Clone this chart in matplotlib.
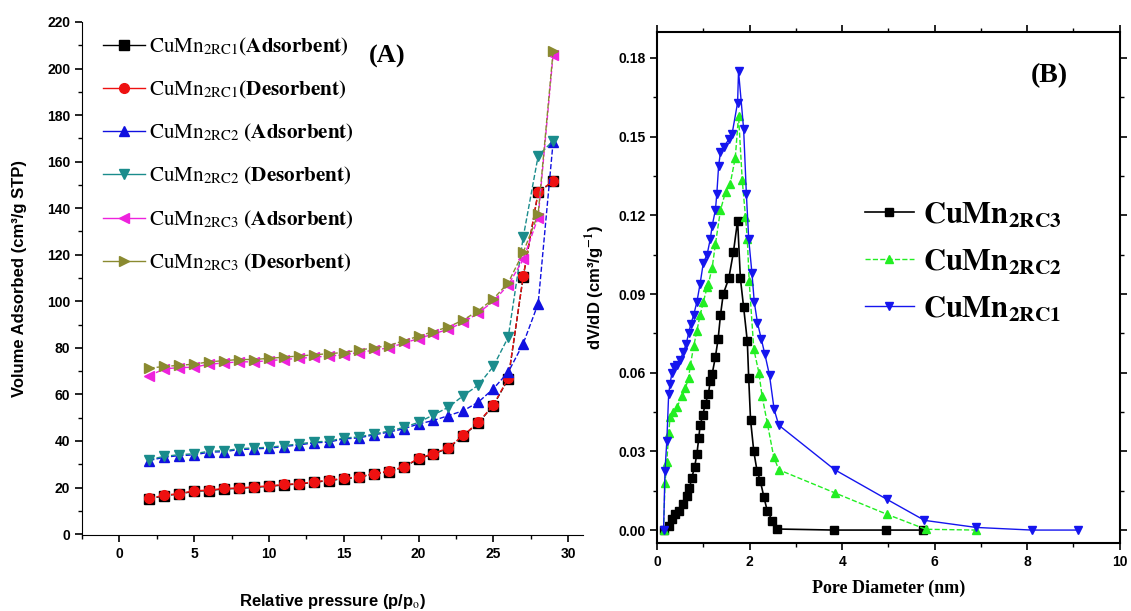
import matplotlib
matplotlib.use("Agg")
import matplotlib.pyplot as plt
from matplotlib.ticker import MultipleLocator, FormatStrFormatter

plt.rcParams['mathtext.fontset'] = 'stix'
plt.rcParams['font.family'] = ['Liberation Sans', 'DejaVu Sans']

# ---------------- Panel A data ----------------
pressure = list(range(2, 30))
rc1_ads = [15.1, 16.5, 17.2, 18.4, 18.7, 19.4, 19.6, 20.1, 20.5, 21.1, 21.5, 22.2, 23.0, 23.7,
           24.4, 25.8, 26.8, 28.7, 32.3, 34.4, 36.9, 42.3, 47.8, 55.2, 66.7, 110.5, 146.8, 151.5]
rc1_des = [15.3, 16.7, 17.4, 18.6, 18.9, 19.6, 19.8, 20.3, 20.7, 21.3, 21.7, 22.4, 23.2, 23.9,
           24.6, 26.0, 27.0, 28.9, 32.5, 34.6, 37.1, 42.5, 48.0, 55.4, 67.0, 110.7, 147.0, 151.7]
rc2_ads = [31.6, 33.0, 33.7, 34.0, 35.2, 35.4, 36.3, 36.6, 36.9, 37.6, 38.3, 39.2, 39.5, 40.9,
           41.3, 42.6, 43.8, 45.2, 47.3, 48.8, 50.9, 53.0, 56.7, 62.4, 69.6, 81.8, 99.0, 168.5]
rc2_des = [32.0, 33.4, 34.1, 34.5, 35.6, 35.8, 36.7, 37.0, 37.3, 38.0, 38.7, 39.6, 39.9, 41.3,
           41.7, 43.0, 44.2, 45.8, 48.0, 51.2, 54.5, 59.5, 64.0, 72.0, 84.6, 127.5, 162.5, 169.0]
rc3_ads = [68.0, 71.0, 71.5, 71.7, 73.0, 73.5, 74.0, 74.0, 74.5, 75.0, 75.5, 76.0, 76.5, 77.0,
           78.0, 79.0, 80.0, 82.0, 84.0, 86.0, 88.0, 91.0, 95.0, 100.0, 107.0, 118.0, 136.0, 206.0]
rc3_des = [71.3, 72.0, 72.5, 73.0, 74.0, 74.5, 75.0, 75.0, 75.5, 76.0, 76.5, 77.0, 77.5, 78.0,
           79.0, 80.0, 81.0, 83.0, 85.0, 87.0, 89.0, 92.0, 96.0, 101.0, 108.0, 121.0, 137.5, 207.5]

# ---------------- Panel B data ----------------
d_rc3 = [0.14, 0.25, 0.32, 0.39, 0.48, 0.57, 0.64, 0.70, 0.75, 0.81, 0.86, 0.90, 0.93, 0.99,
         1.04, 1.11, 1.15, 1.19, 1.26, 1.32, 1.37, 1.43, 1.55, 1.65, 1.74, 1.80, 1.87, 1.95,
         1.98, 2.02, 2.09, 2.16, 2.23, 2.31, 2.38, 2.49, 2.60, 3.83, 4.95, 5.75]
v_rc3 = [0.0, 0.0017, 0.0042, 0.0061, 0.0074, 0.0099, 0.013, 0.016, 0.020, 0.024, 0.029, 0.035,
         0.040, 0.044, 0.048, 0.052, 0.057, 0.0595, 0.066, 0.073, 0.082, 0.090, 0.096, 0.106,
         0.118, 0.096, 0.085, 0.072, 0.058, 0.042, 0.030, 0.0226, 0.0188, 0.0125, 0.0074, 0.0036,
         0.0004, 0.0, 0.0, 0.0]
d_rc2 = [0.14, 0.17, 0.21, 0.25, 0.28, 0.35, 0.43, 0.54, 0.61, 0.68, 0.72, 0.79, 0.86, 0.93,
         1.00, 1.08, 1.11, 1.19, 1.26, 1.37, 1.48, 1.58, 1.69, 1.76, 1.84, 1.91, 1.95, 1.99,
         2.09, 2.20, 2.27, 2.38, 2.52, 2.63, 3.84, 4.97, 5.81, 6.90]
v_rc2 = [0.0, 0.018, 0.026, 0.037, 0.043, 0.045, 0.047, 0.051, 0.054, 0.058, 0.063, 0.070,
         0.076, 0.082, 0.087, 0.0925, 0.094, 0.100, 0.109, 0.122, 0.129, 0.132, 0.142, 0.158,
         0.1335, 0.1195, 0.111, 0.095, 0.069, 0.060, 0.051, 0.041, 0.028, 0.023, 0.0142, 0.006,
         0.0003, 0.0]
d_rc1 = [0.14, 0.17, 0.21, 0.25, 0.28, 0.32, 0.37, 0.43, 0.50, 0.57, 0.63, 0.68, 0.73, 0.79,
         0.86, 0.93, 1.00, 1.08, 1.15, 1.19, 1.26, 1.29, 1.33, 1.37, 1.44, 1.55, 1.62, 1.74,
         1.76, 1.87, 1.93, 1.98, 2.05, 2.10, 2.17, 2.25, 2.33, 2.43, 2.53, 2.63, 3.84, 4.97,
         5.78, 6.90, 8.10, 9.10]
v_rc1 = [0.0, 0.0226, 0.034, 0.052, 0.0557, 0.060, 0.062, 0.063, 0.065, 0.068, 0.071, 0.075,
         0.0786, 0.082, 0.087, 0.094, 0.102, 0.105, 0.111, 0.116, 0.122, 0.128, 0.139, 0.144,
         0.146, 0.149, 0.151, 0.163, 0.175, 0.153, 0.128, 0.111, 0.098, 0.087, 0.079, 0.073,
         0.067, 0.059, 0.046, 0.040, 0.023, 0.0117, 0.0037, 0.001, 0.0, 0.0]

fig = plt.figure(figsize=(11.31, 6.11), dpi=100)

# ================= Panel A =================
axA = fig.add_axes([0.0725, 0.124, 0.443, 0.840])
ms = 7
series_A = [
    (rc1_ads, 'black', 's', r"$\mathrm{CuMn}_{\mathrm{2RC1}}\mathbf{(Adsorbent)}$"),
    (rc1_des, '#ee1111', 'o', r"$\mathrm{CuMn}_{\mathrm{2RC1}}\mathbf{(Desorbent)}$"),
    (rc2_ads, '#1010e0', '^', r"$\mathrm{CuMn}_{\mathrm{2RC2}}\ \mathbf{(Adsorbent)}$"),
    (rc2_des, '#1a8c8c', 'v', r"$\mathrm{CuMn}_{\mathrm{2RC2}}\ \mathbf{(Desorbent)}$"),
    (rc3_ads, '#ee22dd', '<', r"$\mathrm{CuMn}_{\mathrm{2RC3}}\ \mathbf{(Adsorbent)}$"),
    (rc3_des, '#8a8a30', '>', r"$\mathrm{CuMn}_{\mathrm{2RC3}}\ \mathbf{(Desorbent)}$"),
]
handles = []
for vals, col, mk, lab in series_A:
    axA.plot(pressure, vals, color=col, marker=mk, ms=ms, lw=1, ls='--')
    h, = axA.plot([], [], color=col, marker=mk, ms=ms, lw=1, ls='-', label=lab)
    handles.append(h)

axA.set_xlim(-2.5, 31)
axA.set_ylim(-0.5, 220)
axA.spines['top'].set_visible(False)
axA.spines['right'].set_visible(False)
axA.xaxis.set_major_locator(MultipleLocator(5))
axA.xaxis.set_minor_locator(MultipleLocator(2.5))
axA.yaxis.set_major_locator(MultipleLocator(20))
axA.yaxis.set_minor_locator(MultipleLocator(10))
axA.tick_params(which='major', direction='out', length=5, width=1.2, labelsize=10)
axA.tick_params(which='minor', direction='out', length=3, width=1)
for lab in axA.get_xticklabels() + axA.get_yticklabels():
    lab.set_fontweight('bold')
axA.set_ylabel("Volume Adsorbed (cm³/g STP)", fontsize=12, fontweight='bold', labelpad=14)
axA.set_xlabel(r"Relative pressure (p/p$_\mathrm{o}$)", fontsize=12, fontweight='bold', labelpad=22)
axA.legend(handles=handles, loc='upper left', bbox_to_anchor=(0.015, 1.0), frameon=False,
           fontsize=15.2, handlelength=2.0, handletextpad=0.15, labelspacing=1.0, borderaxespad=0.25)
fig.text(0.326, 0.898, "(A)", fontsize=19, fontweight='bold', family='Liberation Serif')

# ================= Panel B =================
axB = fig.add_axes([0.581, 0.111, 0.409, 0.837])
axB.plot(d_rc3, v_rc3, color='black', marker='s', ms=6, lw=1.2, ls='-',
         label=r"$\mathbf{CuMn}_{\mathbf{2RC3}}$")
axB.plot(d_rc2, v_rc2, color='#22ee22', marker='^', ms=6, lw=1.0, ls='--',
         label=r"$\mathbf{CuMn}_{\mathbf{2RC2}}$")
axB.plot(d_rc1, v_rc1, color='#1515ee', marker='v', ms=6, lw=1.0, ls='-',
         label=r"$\mathbf{CuMn}_{\mathbf{2RC1}}$")
axB.set_xlim(0, 10)
axB.set_ylim(-0.005, 0.19)
axB.xaxis.set_major_locator(MultipleLocator(2))
axB.xaxis.set_minor_locator(MultipleLocator(1))
axB.yaxis.set_major_locator(MultipleLocator(0.03))
axB.yaxis.set_minor_locator(MultipleLocator(0.015))
axB.yaxis.set_major_formatter(FormatStrFormatter('%.2f'))
axB.tick_params(which='both', top=True, right=True, direction='out')
axB.tick_params(axis='both', which='major', length=5, width=1.2, labelsize=10)
axB.tick_params(axis='both', which='minor', length=3, width=1)
for lab in axB.get_xticklabels() + axB.get_yticklabels():
    lab.set_fontweight('bold')
for sp in axB.spines.values():
    sp.set_linewidth(1.5)
axB.set_ylabel(r"dV/dD (cm³/g$^{\mathbf{-1}}$)", fontsize=12, fontweight='bold', labelpad=8)
axB.set_xlabel("Pore Diameter (nm)", fontsize=13, fontweight='bold', family='Liberation Serif',
               labelpad=8)
axB.legend(loc='upper left', bbox_to_anchor=(0.39, 0.725), frameon=False, fontsize=22,
           handlelength=1.6, handletextpad=0.3, labelspacing=0.55)
fig.text(0.911, 0.865, "(B)", fontsize=20, fontweight='bold', family='Liberation Serif')

fig.savefig("out.png", dpi=100)
